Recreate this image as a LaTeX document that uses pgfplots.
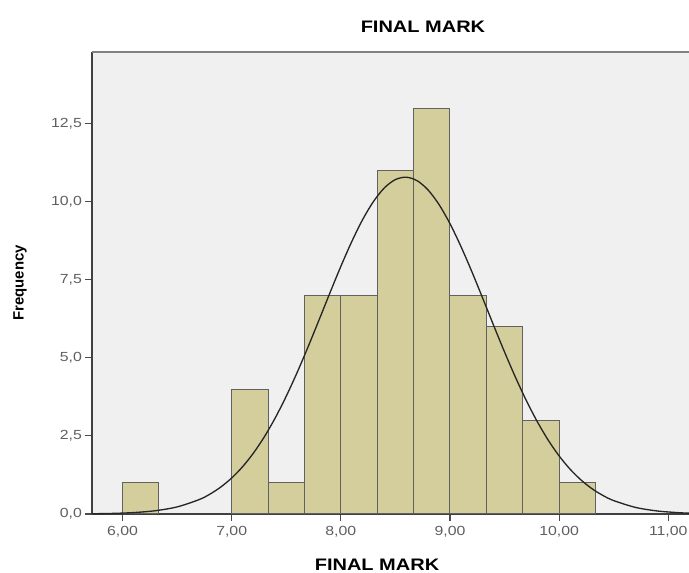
\documentclass[border=0pt]{standalone}
\usepackage{fontspec}
\setmainfont{Liberation Sans}[FakeStretch=1.2]
\newfontfamily\plainsans{Liberation Sans}
\usepackage{pgfplots}
\pgfplotsset{compat=1.18}
\definecolor{barfill}{RGB}{212,206,156}
\definecolor{bgfill}{RGB}{240,240,240}
\definecolor{ticktext}{RGB}{95,95,95}
\begin{document}
\begin{tikzpicture}
\begin{axis}[
  scale only axis, width=447.75pt, height=346.5pt,
  xmin=5.72, xmax=11.19, ymin=0, ymax=14.8,
  axis x line*=bottom, axis y line*=left,
  axis line style={draw=black!75, line width=0.9pt},
  axis background/.style={fill=bgfill},
  xtick={6,7,8,9,10,11},
  xticklabels={{6,00},{7,00},{8,00},{9,00},{10,00},{11,00}},
  ytick={0,2.5,5,7.5,10,12.5},
  yticklabels={{0,0},{2,5},{5,0},{7,5},{10,0},{12,5}},
  tick align=outside, major tick length=5pt,
  tick style={draw=black!70, line width=0.8pt},
  ticklabel style={font=\fontsize{9.9}{11}\selectfont, text=ticktext},
  xticklabel style={yshift=-1pt},
  yticklabel style={xshift=1pt},
  clip=false,
]
\draw[black!50, line width=1pt] (rel axis cs:0,1) -- (rel axis cs:1,1);
\addplot[ybar interval, fill=barfill, draw=black!62, line width=0.75pt]
  coordinates {(6,1) (6.3333,1)};
\addplot[ybar interval, fill=barfill, draw=black!62, line width=0.75pt]
  coordinates {(7,4) (7.3333,1) (7.6667,7) (8,7) (8.3333,11) (8.6667,13)
               (9,7) (9.3333,6) (9.6667,3) (10,1) (10.3333,1)};
\addplot[smooth, black!85, line width=1pt] coordinates {
  (5.72,0.0075) (5.9,0.018) (6.1,0.045) (6.3,0.105) (6.5,0.227) (6.7,0.459)
  (6.8,0.635) (6.9,0.864) (7.0,1.154) (7.1,1.515) (7.2,1.955) (7.3,2.478)
  (7.4,3.085) (7.5,3.775) (7.6,4.536) (7.7,5.356) (7.8,6.214) (7.9,7.083)
  (8.0,7.932) (8.1,8.726) (8.2,9.433) (8.3,10.016) (8.4,10.451) (8.5,10.713)
  (8.6,10.789) (8.7,10.675) (8.8,10.377) (8.9,9.911) (9.0,9.300) (9.1,8.573)
  (9.2,7.766) (9.3,6.910) (9.4,6.040) (9.5,5.189) (9.6,4.379) (9.7,3.630)
  (9.8,2.957) (9.9,2.366) (10.0,1.860) (10.1,1.437) (10.2,1.091) (10.3,0.813)
  (10.4,0.596) (10.5,0.429) (10.7,0.211) (10.9,0.096) (11.1,0.041) (11.19,0.027)};
\node[font=\bfseries\fontsize{12.5}{14}\selectfont] at (rel axis cs:0.5544,1.0541) {FINAL MARK};
\node[font=\bfseries\fontsize{12.5}{14}\selectfont] at (rel axis cs:0.4774,-0.1104) {FINAL MARK};
\node[rotate=90, font=\plainsans\bfseries\fontsize{11.2}{13}\selectfont] at (rel axis cs:-0.1206,0.5) {Frequency};
\end{axis}
\pgfresetboundingbox
\path[use as bounding box] ([xshift=-69pt, yshift=-44.25pt]current axis.south west) rectangle ([yshift=39pt]current axis.north east);
\end{tikzpicture}
\end{document}
